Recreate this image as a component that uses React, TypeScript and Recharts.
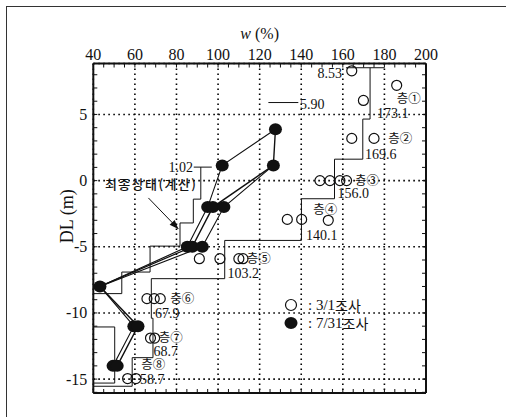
import React from 'react';
import { ScatterChart, Scatter, XAxis, YAxis, Legend, CartesianGrid } from 'recharts';

// ---- axes ----
const W_MAJOR = [40, 60, 80, 100, 120, 140, 160, 180, 200];
const W_MINOR = [40, 45, 50, 55, 60, 65, 70, 75, 80, 85, 90, 95, 100, 105, 110, 115, 120, 125, 130, 135, 140, 145, 150, 155, 160, 165, 170, 175, 180, 185, 190, 195, 200];
const DL_MAJOR = [-15, -10, -5, 0, 5];
const DL_MINOR = [-16, -15, -14, -13, -12, -11, -10, -9, -8, -7, -6, -5, -4, -3, -2, -1, 0, 1, 2, 3, 4, 5, 6, 7, 8];
const W_DOMAIN = [40, 200];
const DL_DOMAIN = [-16.05, 8.85];

// ---- 3/1 survey (open circles) ----
const survey0301 = [
  { w: 164.3, dl: 8.3 },
  { w: 185.9, dl: 7.2 },
  { w: 169.9, dl: 6.06 },
  { w: 164.3, dl: 3.19 },
  { w: 175.0, dl: 3.19 },
  { w: 149.0, dl: 0.0 },
  { w: 153.8, dl: 0.0 },
  { w: 158.6, dl: 0.0 },
  { w: 161.8, dl: 0.0 },
  { w: 133.3, dl: -2.93 },
  { w: 140.2, dl: -2.93 },
  { w: 153.0, dl: -3.0 },
  { w: 91.0, dl: -5.9 },
  { w: 100.9, dl: -5.9 },
  { w: 110.0, dl: -5.9 },
  { w: 112.0, dl: -5.9 },
  { w: 65.8, dl: -8.92 },
  { w: 69.3, dl: -8.92 },
  { w: 72.2, dl: -8.92 },
  { w: 67.5, dl: -11.9 },
  { w: 69.5, dl: -11.9 },
  { w: 56.5, dl: -14.96 },
  { w: 60.5, dl: -14.96 },
];

// ---- 7/31 survey (filled circles) ----
const survey0731 = [
  { w: 127.6, dl: 3.88 },
  { w: 102.0, dl: 1.15 },
  { w: 126.6, dl: 1.15 },
  { w: 95.0, dl: -2.0 },
  { w: 97.5, dl: -2.0 },
  { w: 102.8, dl: -2.0 },
  { w: 85.2, dl: -5.0 },
  { w: 87.6, dl: -5.0 },
  { w: 92.4, dl: -5.0 },
  { w: 43.2, dl: -8.0 },
  { w: 59.5, dl: -11.0 },
  { w: 61.5, dl: -11.0 },
  { w: 49.5, dl: -14.0 },
  { w: 51.5, dl: -14.0 },
];
const path0731A = [
  { w: 127.6, dl: 3.88 }, { w: 102.0, dl: 1.15 }, { w: 95.0, dl: -2.0 }, { w: 85.2, dl: -5.0 },
  { w: 43.2, dl: -8.0 }, { w: 59.5, dl: -11.0 }, { w: 49.5, dl: -14.0 },
];
const path0731B = [
  { w: 127.6, dl: 3.88 }, { w: 126.6, dl: 1.15 }, { w: 97.5, dl: -2.0 }, { w: 87.6, dl: -5.0 },
  { w: 43.2, dl: -8.0 }, { w: 61.5, dl: -11.0 }, { w: 51.5, dl: -14.0 },
];
const path0731C = [
  { w: 126.6, dl: 1.15 }, { w: 102.8, dl: -2.0 }, { w: 92.4, dl: -5.0 }, { w: 43.2, dl: -8.0 },
];

// ---- layer average profile (step) ----
const layerProfile = [
  { w: 173.1, dl: 8.53 }, { w: 173.1, dl: 4.65 }, { w: 169.6, dl: 4.65 }, { w: 169.6, dl: 1.62 },
  { w: 156.0, dl: 1.62 }, { w: 156.0, dl: -1.37 }, { w: 140.1, dl: -1.37 }, { w: 140.1, dl: -4.52 },
  { w: 103.2, dl: -4.52 }, { w: 103.2, dl: -7.41 }, { w: 67.9, dl: -7.41 }, { w: 67.9, dl: -10.4 },
  { w: 68.7, dl: -10.4 }, { w: 68.7, dl: -13.38 }, { w: 58.7, dl: -13.38 }, { w: 58.7, dl: -15.54 },
  { w: 40, dl: -15.54 },
];
const groundLine = [{ w: 161.5, dl: 8.53 }, { w: 180, dl: 8.53 }];

// ---- final state (calculated) profile ----
const finalCalc = [
  { w: 91.7, dl: 1.02 }, { w: 91.7, dl: -1.4 }, { w: 88.1, dl: -1.4 }, { w: 88.1, dl: -3.2 },
  { w: 81.7, dl: -3.2 }, { w: 81.7, dl: -4.95 }, { w: 67.3, dl: -4.95 }, { w: 67.3, dl: -6.91 },
  { w: 53.7, dl: -6.91 }, { w: 53.7, dl: -8.54 }, { w: 40, dl: -8.54 },
];
const finalCalcLower = [
  { w: 40, dl: -11.06 }, { w: 50.3, dl: -11.06 }, { w: 50.3, dl: -15.3 }, { w: 40, dl: -15.3 },
];
const leader102 = [{ w: 88.3, dl: 1.02 }, { w: 97.0, dl: 1.02 }];
const leader590 = [{ w: 124.2, dl: 5.9 }, { w: 138.6, dl: 5.9 }];
const arrowLine = [{ w: 66.5, dl: -1.31 }, { w: 80.9, dl: -3.65 }];

// ---- annotations ----
const numLabels = [
  { text: '8.53', w: 159.6, dl: 8.13, anchor: 'end' },
  { text: '5.90', w: 139.4, dl: 5.78, anchor: 'start' },
  { text: '173.1', w: 176.4, dl: 5.05, anchor: 'start' },
  { text: '169.6', w: 170.7, dl: 1.96, anchor: 'start' },
  { text: '156.0', w: 157.4, dl: -0.98, anchor: 'start' },
  { text: '140.1', w: 142.3, dl: -4.15, anchor: 'start' },
  { text: '103.2', w: 104.5, dl: -7.05, anchor: 'start' },
  { text: '67.9', w: 69.7, dl: -10.02, anchor: 'start' },
  { text: '68.7', w: 69.0, dl: -12.9, anchor: 'start' },
  { text: '58.7', w: 62.4, dl: -15.0, anchor: 'start' },
  { text: '1.02', w: 88.0, dl: 1.01, anchor: 'end' },
];
const layerLabels = [
  { text: '층①', w: 185.9, dl: 6.25 },
  { text: '층②', w: 181.9, dl: 3.25 },
  { text: '층③', w: 165.9, dl: 0.1 },
  { text: '층④', w: 145.8, dl: -2.08 },
  { text: '층⑤', w: 113.8, dl: -5.82 },
  { text: '층⑥', w: 77.0, dl: -8.85 },
  { text: '층⑦', w: 71.5, dl: -11.75 },
  { text: '층⑧', w: 63.0, dl: -13.85 },
];
const calcLabel = [{ text: '최종상태(계산)', w: 45.6, dl: -0.25 }];

const SERIF = "'Liberation Serif', 'Times New Roman', serif";
const KR = "'Noto Sans CJK KR', 'Noto Sans', sans-serif";
const INK = '#111';

// chart layout
const CHART_W = 506;
const CHART_H = 417;
const MARGIN = { top: 33.5, right: 79, bottom: 23, left: 33.3 };
const X_AXIS_H = 30;
const Y_AXIS_W = 60;
const PLOT_W = CHART_W - MARGIN.left - MARGIN.right - Y_AXIS_W - 1;
const PLOT_H = CHART_H - MARGIN.top - MARGIN.bottom - X_AXIS_H - 1;

const None = () => <g />;
const OpenDot = (p: any) => <circle cx={p.cx} cy={p.cy} r={5} fill="none" stroke={INK} strokeWidth={1.2} />;
const FilledDot = (p: any) => <ellipse cx={p.cx} cy={p.cy} rx={6.5} ry={6} fill={INK} />;
const NumText = (p: any) => (
  <text x={p.cx} y={p.cy} textAnchor={p.payload.anchor} dominantBaseline="central" fontFamily={SERIF} fontSize={14} fill={INK}>
    {p.payload.text}
  </text>
);
const KrText = (p: any) => (
  <text x={p.cx} y={p.cy} textAnchor="start" dominantBaseline="central" fontFamily={KR} fontSize={12.5} fill={INK}>
    {p.payload.text}
  </text>
);
const KrTextWide = (p: any) => (
  <text x={p.cx} y={p.cy} textAnchor="start" dominantBaseline="central" fontFamily={KR} fontSize={13} fontWeight={500} textLength={91} fill={INK}>
    {p.payload.text}
  </text>
);
const ArrowHead = (p: any) => {
  const ux = 0.69, uy = 0.72, len = 9, hw = 3.5;
  const bx = p.cx - ux * len, by = p.cy - uy * len;
  const pts = `${p.cx},${p.cy} ${bx - uy * hw},${by + ux * hw} ${bx + uy * hw},${by - ux * hw}`;
  return <polygon points={pts} fill={INK} />;
};

// major ticks (labels) on top and left
const TopTick = (p: any) => (
  <text x={p.x} y={p.y - 4} textAnchor="middle" fontFamily={SERIF} fontSize={16} fill={INK}>{p.payload.value}</text>
);
const LeftTick = (p: any) => (
  <text x={p.x - 6} y={p.y} textAnchor="end" dominantBaseline="central" fontFamily={SERIF} fontSize={16} fill={INK}>{p.payload.value}</text>
);
// minor inward ticks on all four frame sides
const BottomTick = (p: any) => (
  <g>
    <line x1={p.x} y1={p.y} x2={p.x} y2={p.y - 4} stroke={INK} strokeWidth={1} />
    <line x1={p.x} y1={p.y - PLOT_H} x2={p.x} y2={p.y - PLOT_H + 4} stroke={INK} strokeWidth={1} />
  </g>
);
const RightTick = (p: any) => (
  <g>
    <line x1={p.x} y1={p.y} x2={p.x - 4} y2={p.y} stroke={INK} strokeWidth={1} />
    <line x1={p.x - PLOT_W} y1={p.y} x2={p.x - PLOT_W + 4} y2={p.y} stroke={INK} strokeWidth={1} />
  </g>
);

const LegendBox = () => (
  <svg width={110} height={40}>
    <circle cx={9} cy={10} r={5.5} fill="none" stroke={INK} strokeWidth={1.2} />
    <text x={26} y={10} dominantBaseline="central" fontFamily={SERIF} fontSize={15} fill={INK}>
      :  3/1<tspan fontFamily={KR} fontSize={14}>조사</tspan>
    </text>
    <ellipse cx={9} cy={28} rx={6.5} ry={6} fill={INK} />
    <text x={26} y={28} dominantBaseline="central" fontFamily={SERIF} fontSize={15} fill={INK}>
      :  7/31<tspan fontFamily={KR} fontSize={14}>조사</tspan>
    </text>
  </svg>
);

export default function App() {
  const lineStyle = { stroke: INK, strokeWidth: 1 };
  return (
    <div style={{ position: 'absolute', left: 0, top: 0, width: CHART_W, height: CHART_H, background: '#fff' }}>
      <div style={{ position: 'absolute', left: 6, top: 6, width: 500, height: 411, borderTop: '1px solid #333', borderLeft: '1px solid #333' }} />
      <ScatterChart width={CHART_W} height={CHART_H} margin={MARGIN}>
        <CartesianGrid stroke="#000" strokeWidth={1.6} strokeDasharray="1.6 3.4" />
        <XAxis
          type="number" dataKey="w" orientation="top" domain={W_DOMAIN} ticks={W_MAJOR} interval={0}
          allowDataOverflow height={X_AXIS_H} tickSize={0} tickMargin={0} tickLine={false}
          axisLine={{ stroke: INK, strokeWidth: 2 }} tick={<TopTick />}
          label={(lp: any) => {
            const vb = lp.viewBox;
            return (
              <text x={vb.x + vb.width / 2} y={vb.y + 5} textAnchor="middle" fontFamily={SERIF} fontSize={16} fill={INK}>
                <tspan fontStyle="italic">w</tspan> (%)
              </text>
            );
          }}
        />
        <XAxis
          xAxisId="b" type="number" dataKey="w" orientation="bottom" domain={W_DOMAIN} ticks={W_MINOR} interval={0}
          allowDataOverflow height={1} tickSize={0} tickMargin={0} tickLine={false}
          axisLine={{ stroke: INK, strokeWidth: 2 }} tick={<BottomTick />}
        />
        <YAxis
          type="number" dataKey="dl" domain={DL_DOMAIN} ticks={DL_MAJOR} interval={0}
          allowDataOverflow width={Y_AXIS_W} tickSize={0} tickMargin={0} tickLine={false}
          axisLine={{ stroke: INK, strokeWidth: 2 }} tick={<LeftTick />}
          label={(lp: any) => {
            const vb = lp.viewBox;
            const cx = vb.x + 34;
            const cy = vb.y + vb.height / 2 - 12;
            return (
              <text x={cx} y={cy} textAnchor="middle" dominantBaseline="central" transform={`rotate(-90 ${cx} ${cy})`} fontFamily={SERIF} fontSize={18} fill={INK}>
                DL (m)
              </text>
            );
          }}
        />
        <YAxis
          yAxisId="r" type="number" dataKey="dl" orientation="right" domain={DL_DOMAIN} ticks={DL_MINOR} interval={0}
          allowDataOverflow width={1} tickSize={0} tickMargin={0} tickLine={false}
          axisLine={{ stroke: INK, strokeWidth: 2 }} tick={<RightTick />}
        />
        <Scatter data={layerProfile} dataKey="dl" line={lineStyle} lineType="joint" shape={None} isAnimationActive={false} legendType="none" />
        <Scatter data={groundLine} dataKey="dl" line={lineStyle} lineType="joint" shape={None} isAnimationActive={false} legendType="none" />
        <Scatter data={finalCalc} dataKey="dl" line={lineStyle} lineType="joint" shape={None} isAnimationActive={false} legendType="none" />
        <Scatter data={finalCalcLower} dataKey="dl" line={lineStyle} lineType="joint" shape={None} isAnimationActive={false} legendType="none" />
        <Scatter data={leader102} dataKey="dl" line={lineStyle} lineType="joint" shape={None} isAnimationActive={false} legendType="none" />
        <Scatter data={leader590} dataKey="dl" line={lineStyle} lineType="joint" shape={None} isAnimationActive={false} legendType="none" />
        <Scatter data={arrowLine} dataKey="dl" line={lineStyle} lineType="joint" shape={None} isAnimationActive={false} legendType="none" />
        <Scatter data={[arrowLine[1]]} dataKey="dl" shape={ArrowHead} isAnimationActive={false} legendType="none" />
        <Scatter data={path0731A} dataKey="dl" line={{ stroke: INK, strokeWidth: 1.1 }} lineType="joint" shape={None} isAnimationActive={false} legendType="none" />
        <Scatter data={path0731B} dataKey="dl" line={{ stroke: INK, strokeWidth: 1.4 }} lineType="joint" shape={None} isAnimationActive={false} legendType="none" />
        <Scatter data={path0731C} dataKey="dl" line={{ stroke: INK, strokeWidth: 1.1 }} lineType="joint" shape={None} isAnimationActive={false} legendType="none" />
        <Scatter name="3/1조사" data={survey0301} dataKey="dl" shape={OpenDot} isAnimationActive={false} />
        <Scatter name="7/31조사" data={survey0731} dataKey="dl" shape={FilledDot} isAnimationActive={false} />
        <Scatter data={numLabels} dataKey="dl" shape={NumText} isAnimationActive={false} legendType="none" />
        <Scatter data={layerLabels} dataKey="dl" shape={KrText} isAnimationActive={false} legendType="none" />
        <Scatter data={calcLabel} dataKey="dl" shape={KrTextWide} isAnimationActive={false} legendType="none" />
        <Legend
          layout="horizontal" verticalAlign="middle" align="center" content={<LegendBox />}
          wrapperStyle={{ position: 'absolute', left: 282, top: 295, width: 110, height: 40 }}
        />
      </ScatterChart>
    </div>
  );
}
